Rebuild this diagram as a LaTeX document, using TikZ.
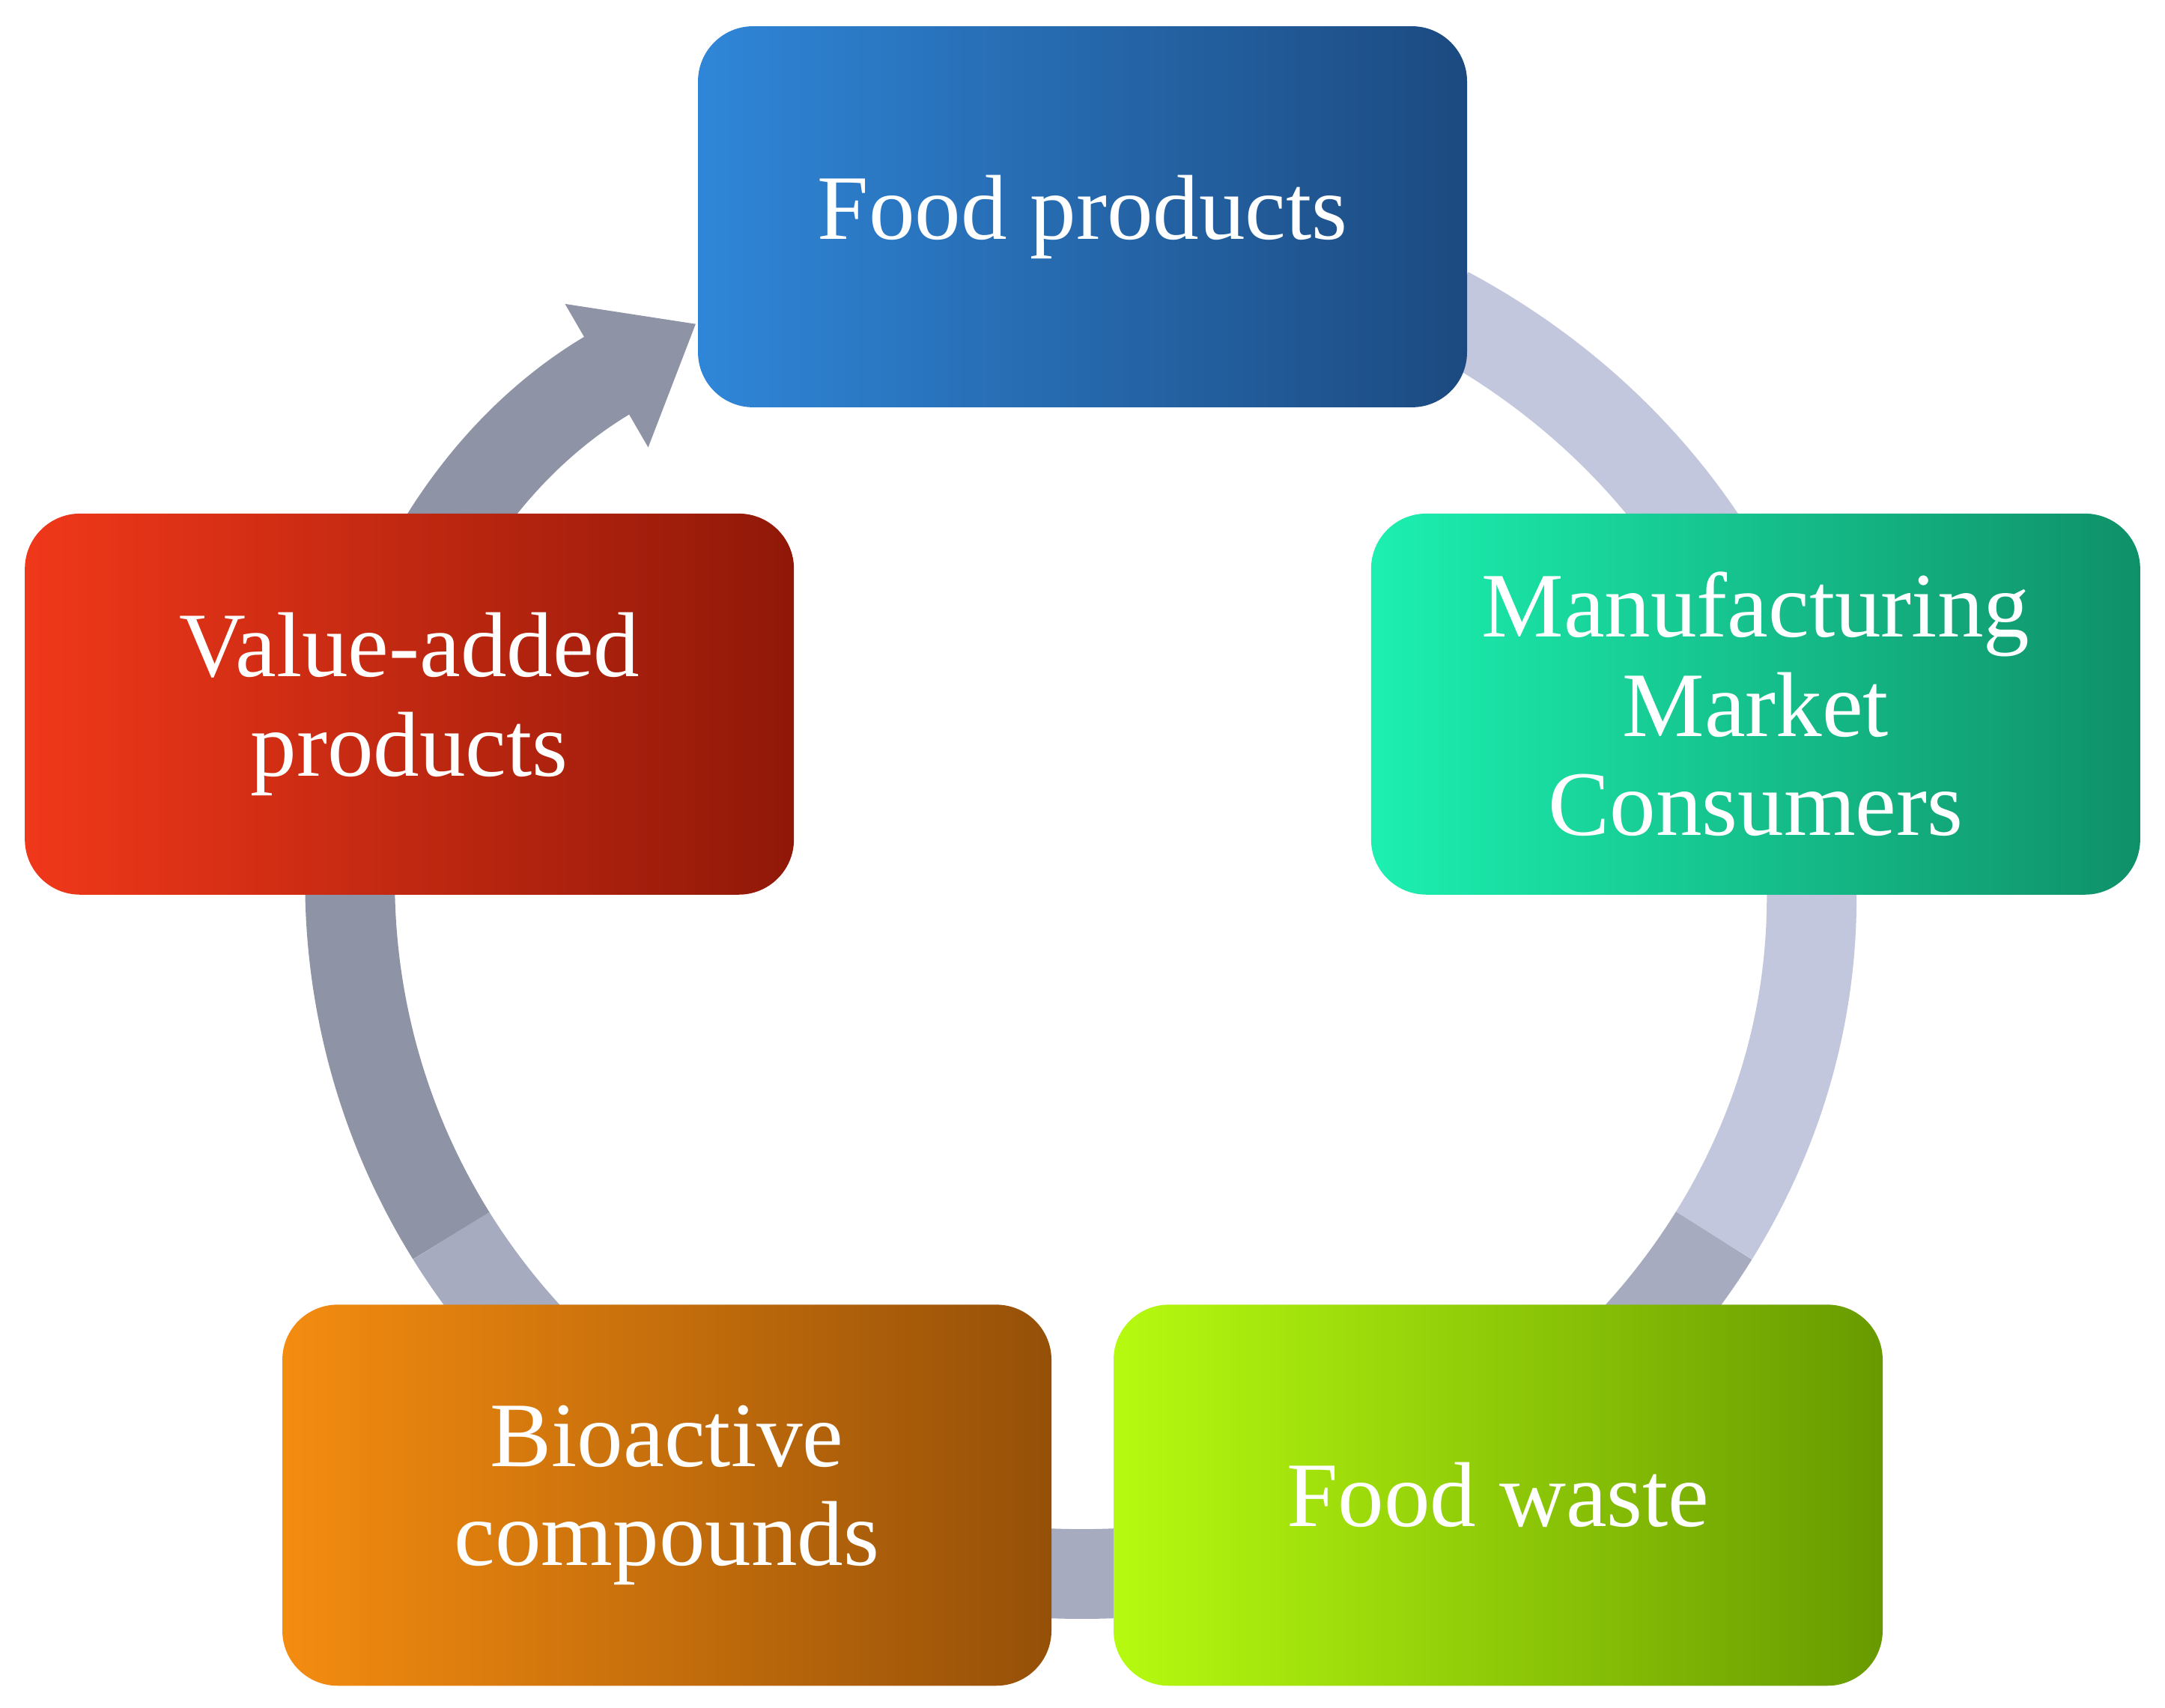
\documentclass[tikz,border=0pt]{standalone}
\usepackage{fontspec}
\setmainfont{Liberation Serif}
\usetikzlibrary{arrows.meta}
\definecolor{ringA}{HTML}{C2C7DE}
\definecolor{ringB}{HTML}{A6ABC0}
\definecolor{ringC}{HTML}{8E93A6}
\definecolor{fpL}{HTML}{2F86D8}\definecolor{fpR}{HTML}{1C4A80}
\definecolor{mmL}{HTML}{1CF0B0}\definecolor{mmR}{HTML}{0F9068}
\definecolor{fwL}{HTML}{B6FA10}\definecolor{fwR}{HTML}{689A00}
\definecolor{bcL}{HTML}{F48C10}\definecolor{bcR}{HTML}{955008}
\definecolor{vaL}{HTML}{F0381A}\definecolor{vaR}{HTML}{901808}
\tikzset{
 box/.style={rounded corners=0.4cm, minimum width=5.57cm, minimum height=2.76cm, text=white, align=center, font=\fontsize{19}{20.5}\selectfont},
 ring/.style={line width=0.65cm}
}
\begin{document}
\begin{tikzpicture}[x=1cm,y=1cm]
\useasboundingbox (0,0) rectangle (15.68,12.37);
\fill[white] (0,0) rectangle (15.68,12.37);
\coordinate (c) at (7.84,5.87);
\draw[ring, ringA] ([shift={(60:5.28 and 4.9)}]c) arc[start angle=60, end angle=-30, x radius=5.28, y radius=4.9];
\draw[ring, ringB] ([shift={(-30:5.28 and 4.9)}]c) arc[start angle=-30, end angle=-150, x radius=5.28, y radius=4.9];
\draw[ring, ringC, -{Triangle[width=1.15cm,length=0.75cm]}] ([shift={(-150:5.28 and 4.9)}]c) arc[start angle=-150, end angle=-238, x radius=5.28, y radius=4.9];
\node[box, left color=fpL, right color=fpR] (fp) at (7.84,10.80) {Food products};
\node[box, left color=mmL, right color=mmR] (mm) at (12.715,7.27) {Manufacturing\\Market\\Consumers};
\node[box, left color=fwL, right color=fwR] (fw) at (10.85,1.54) {Food waste};
\node[box, left color=bcL, right color=bcR] (bc) at (4.83,1.54) {Bioactive\\compounds};
\node[box, left color=vaL, right color=vaR] (va) at (2.965,7.27) {Value-added\\products};
\end{tikzpicture}
\end{document}
